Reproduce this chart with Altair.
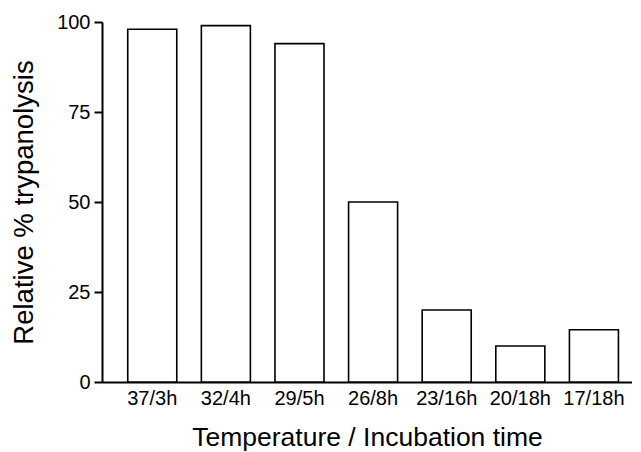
import altair as alt
import pandas as pd

categories = ["37/3h", "32/4h", "29/5h", "26/8h", "23/16h", "20/18h", "17/18h"]
values = [98, 99, 94, 50, 20, 10, 14.5]
y_ticks = [0, 25, 50, 75, 100]

df = pd.DataFrame({"cond": categories, "val": values})

FONT = "Liberation Sans"

chart = alt.Chart(df).mark_bar(
    fill="white", stroke="black", strokeWidth=1.6
).encode(
    x=alt.X("cond:N", sort=categories,
            title="Temperature / Incubation time",
            scale=alt.Scale(paddingInner=0.334, paddingOuter=0.267, align=0.655),
            axis=alt.Axis(labelAngle=0, ticks=False, labelPadding=6,
                          labelFontSize=20, titleFontSize=26.5, titlePadding=16,
                          domainColor="black", domainWidth=2,
                          labelColor="black", titleColor="black",
                          labelFont=FONT, titleFont=FONT, titleFontWeight="normal")),
    y=alt.Y("val:Q", title="Relative % trypanolysis",
            scale=alt.Scale(domain=[0, 100], nice=False),
            axis=alt.Axis(values=y_ticks, grid=False, tickSize=8, tickWidth=2,
                          tickColor="black", labelPadding=4,
                          labelFontSize=20, titleFontSize=27.5, titlePadding=18,
                          domainColor="black", domainWidth=2,
                          labelColor="black", titleColor="black",
                          labelFont=FONT, titleFont=FONT, titleFontWeight="normal")),
).properties(
    width=530, height=360,
    autosize=alt.AutoSizeParams(type="none"),
    padding={"left": 94, "top": 14, "right": 0, "bottom": 70},
).configure_view(stroke=None)

chart.save("out.html", embed_options={"renderer": "svg", "actions": False})
